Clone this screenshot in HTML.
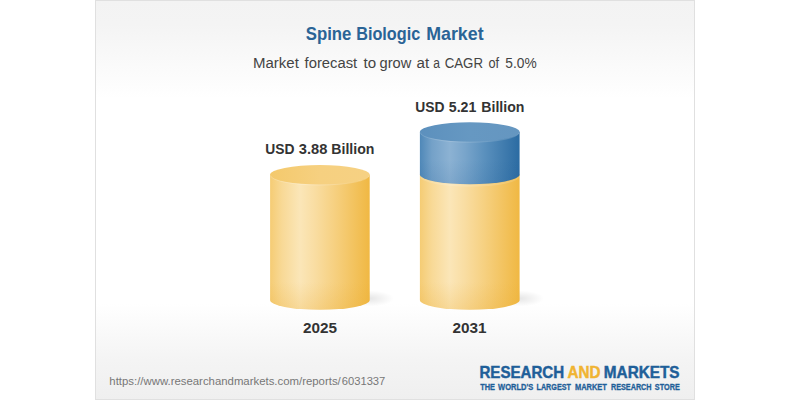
<!DOCTYPE html>
<html>
<head>
<meta charset="utf-8">
<title>Spine Biologic Market</title>
<style>
html,body{margin:0;padding:0;background:#fff;}
body{width:791px;height:400px;overflow:hidden;position:relative;font-family:"Liberation Sans",sans-serif;}
#card{position:absolute;left:95px;top:0;width:600px;height:400px;}
svg text{font-family:"Liberation Sans",sans-serif;}
</style>
</head>
<body>
<div id="card">
<svg width="600" height="400" viewBox="0 0 600 400">
  <defs>
    <linearGradient id="bg" x1="0" y1="0" x2="0" y2="1">
      <stop offset="0" stop-color="#f3f3f3"/>
      <stop offset="0.06" stop-color="#f4f4f4"/>
      <stop offset="0.245" stop-color="#ffffff"/>
      <stop offset="0.76" stop-color="#ffffff"/>
      <stop offset="0.9" stop-color="#f4f4f4"/>
      <stop offset="1" stop-color="#efefef"/>
    </linearGradient>
    <linearGradient id="ySide" x1="0" y1="0" x2="1" y2="0">
      <stop offset="0" stop-color="#f5cc74"/>
      <stop offset="0.12" stop-color="#f8d996"/>
      <stop offset="0.3" stop-color="#fbe6b8"/>
      <stop offset="0.45" stop-color="#f9dda2"/>
      <stop offset="0.65" stop-color="#f6d080"/>
      <stop offset="1" stop-color="#f0b843"/>
    </linearGradient>
    <linearGradient id="yTop" x1="0" y1="0" x2="1" y2="0">
      <stop offset="0" stop-color="#f4c96c"/>
      <stop offset="0.5" stop-color="#f6d080"/>
      <stop offset="1" stop-color="#f6d183"/>
    </linearGradient>
    <linearGradient id="bSide" x1="0" y1="0" x2="1" y2="0">
      <stop offset="0" stop-color="#4f88b8"/>
      <stop offset="0.12" stop-color="#74a1c8"/>
      <stop offset="0.3" stop-color="#8cb2d3"/>
      <stop offset="0.45" stop-color="#79a5cb"/>
      <stop offset="0.65" stop-color="#5a90bd"/>
      <stop offset="1" stop-color="#2b6ba2"/>
    </linearGradient>
    <linearGradient id="bTop" x1="0" y1="0" x2="1" y2="0">
      <stop offset="0" stop-color="#5c90bd"/>
      <stop offset="0.5" stop-color="#6698c2"/>
      <stop offset="1" stop-color="#6596c0"/>
    </linearGradient>
    <linearGradient id="rim" x1="0" y1="0" x2="0" y2="1">
      <stop offset="0" stop-color="#e9a92c" stop-opacity="0"/>
      <stop offset="1" stop-color="#e9a92c" stop-opacity="0.22"/>
    </linearGradient>
    <linearGradient id="rimB" x1="0" y1="0" x2="0" y2="1">
      <stop offset="0" stop-color="#1d5a94" stop-opacity="0"/>
      <stop offset="1" stop-color="#1d5a94" stop-opacity="0.12"/>
    </linearGradient>
    <radialGradient id="shadow" cx="0.5" cy="0.5" r="0.5">
      <stop offset="0" stop-color="#000" stop-opacity="0.10"/>
      <stop offset="1" stop-color="#000" stop-opacity="0"/>
    </radialGradient>
  </defs>
  <rect x="0.5" y="0.5" width="599" height="399" fill="url(#bg)" stroke="#e0e0e0"/>

  <text y="39.6" font-size="17.8" font-weight="bold" fill="#2a6496"><tspan x="210.8" textLength="45.6" lengthAdjust="spacingAndGlyphs">Spine</tspan> <tspan x="261.2" textLength="64" lengthAdjust="spacingAndGlyphs">Biologic</tspan> <tspan x="331.2" textLength="57.4" lengthAdjust="spacingAndGlyphs">Market</tspan></text>
  <text y="67.5" font-size="15.3" fill="#444"><tspan x="158.03" textLength="45.82" lengthAdjust="spacingAndGlyphs">Market</tspan> <tspan x="209.6" textLength="52.65" lengthAdjust="spacingAndGlyphs">forecast</tspan> <tspan x="268.5" textLength="12.61" lengthAdjust="spacingAndGlyphs">to</tspan> <tspan x="284.54" textLength="31.78" lengthAdjust="spacingAndGlyphs">grow</tspan> <tspan x="321.53" textLength="12.62" lengthAdjust="spacingAndGlyphs">at</tspan> <tspan x="338.22" textLength="6.7" lengthAdjust="spacingAndGlyphs">a</tspan> <tspan x="349.68" textLength="38.28" lengthAdjust="spacingAndGlyphs">CAGR</tspan> <tspan x="393.5" textLength="10.66" lengthAdjust="spacingAndGlyphs">of</tspan> <tspan x="410.27" textLength="31.34" lengthAdjust="spacingAndGlyphs">5.0%</tspan></text>

  <!-- cylinder 1 -->
  <ellipse cx="274" cy="298.5" rx="25" ry="8" fill="url(#shadow)"/>
  <path d="M175.1 174.8 L175.1 300.1 A49.8 9.7 0 0 0 274.7 300.1 L274.7 174.8 Z" fill="url(#ySide)"/>
  <path d="M175.1 282 L175.1 300.1 A49.8 9.7 0 0 0 274.7 300.1 L274.7 282 Z" fill="url(#rim)"/>
  <ellipse cx="224.9" cy="174.8" rx="49.8" ry="9.7" fill="url(#yTop)"/>
  <path d="M175.6 175.4 A49.3 9.6 0 0 0 274.2 175.4" fill="none" stroke="#fff" stroke-opacity="0.2" stroke-width="1"/>
  <text y="154.3" font-size="15.4" font-weight="bold" fill="#333"><tspan x="170.35" textLength="29.23" lengthAdjust="spacingAndGlyphs">USD</tspan> <tspan x="203.77" textLength="28.6" lengthAdjust="spacingAndGlyphs">3.88</tspan> <tspan x="236.32" textLength="43.06" lengthAdjust="spacingAndGlyphs">Billion</tspan></text>
  <text x="225" y="333.4" text-anchor="middle" font-size="15.3" font-weight="bold" fill="#333">2025</text>

  <!-- cylinder 2 -->
  <ellipse cx="424" cy="298.5" rx="25" ry="8" fill="url(#shadow)"/>
  <path d="M324.9 174.6 L324.9 300.1 A49.85 9.7 0 0 0 424.6 300.1 L424.6 174.6 Z" fill="url(#ySide)"/>
  <path d="M324.9 282 L324.9 300.1 A49.85 9.7 0 0 0 424.6 300.1 L424.6 282 Z" fill="url(#rim)"/>
  <path d="M324.9 132 L324.9 174.6 A49.85 9.7 0 0 0 424.6 174.6 L424.6 132 Z" fill="url(#bSide)"/>
  <path d="M324.9 160 L324.9 174.6 A49.85 9.7 0 0 0 424.6 174.6 L424.6 160 Z" fill="url(#rimB)"/>
  <path d="M325.6 176.4 A49.2 9.7 0 0 0 423.9 176.4" fill="none" stroke="#fff" stroke-opacity="0.14" stroke-width="2"/>
  <ellipse cx="374.75" cy="132" rx="49.85" ry="9.7" fill="url(#bTop)"/>
  <path d="M325.4 132.6 A49.35 9.6 0 0 0 424.1 132.6" fill="none" stroke="#fff" stroke-opacity="0.15" stroke-width="1"/>
  <text y="111.8" font-size="15.4" font-weight="bold" fill="#333"><tspan x="320.35" textLength="29.23" lengthAdjust="spacingAndGlyphs">USD</tspan> <tspan x="353.78" textLength="27.57" lengthAdjust="spacingAndGlyphs">5.21</tspan> <tspan x="386.32" textLength="43.06" lengthAdjust="spacingAndGlyphs">Billion</tspan></text>
  <text x="374.6" y="333.4" text-anchor="middle" font-size="15.3" font-weight="bold" fill="#333">2031</text>

  <!-- footer -->
  <text y="385.2" font-size="11.7" fill="#777"><tspan x="14.32" textLength="231.43" lengthAdjust="spacingAndGlyphs">https://www.researchandmarkets.com/reports/</tspan><tspan x="246.77" textLength="43.56" lengthAdjust="spacingAndGlyphs">6031337</tspan></text>
  <text y="377.5" font-size="15.9" font-weight="bold" fill="#1f5f99" stroke="#1f5f99" stroke-width="0.45"><tspan x="384.46" textLength="84.74" lengthAdjust="spacingAndGlyphs">RESEARCH</tspan> <tspan x="472.56" textLength="32.97" lengthAdjust="spacingAndGlyphs" fill="#f0b432" stroke="#f0b432">AND</tspan> <tspan x="508.84" textLength="75.76" lengthAdjust="spacingAndGlyphs">MARKETS</tspan></text>
  <text y="389.7" font-size="8.8" font-weight="bold" fill="#1f5f99" stroke="#1f5f99" stroke-width="0.3"><tspan x="385.24" textLength="14.75" lengthAdjust="spacingAndGlyphs">THE</tspan> <tspan x="403.08" textLength="35.11" lengthAdjust="spacingAndGlyphs">WORLD'S</tspan> <tspan x="441.53" textLength="34.35" lengthAdjust="spacingAndGlyphs">LARGEST</tspan> <tspan x="479.91" textLength="31.97" lengthAdjust="spacingAndGlyphs">MARKET</tspan> <tspan x="515.93" textLength="40.65" lengthAdjust="spacingAndGlyphs">RESEARCH</tspan> <tspan x="559.87" textLength="24.91" lengthAdjust="spacingAndGlyphs">STORE</tspan></text>
</svg>
</div>
</body>
</html>
